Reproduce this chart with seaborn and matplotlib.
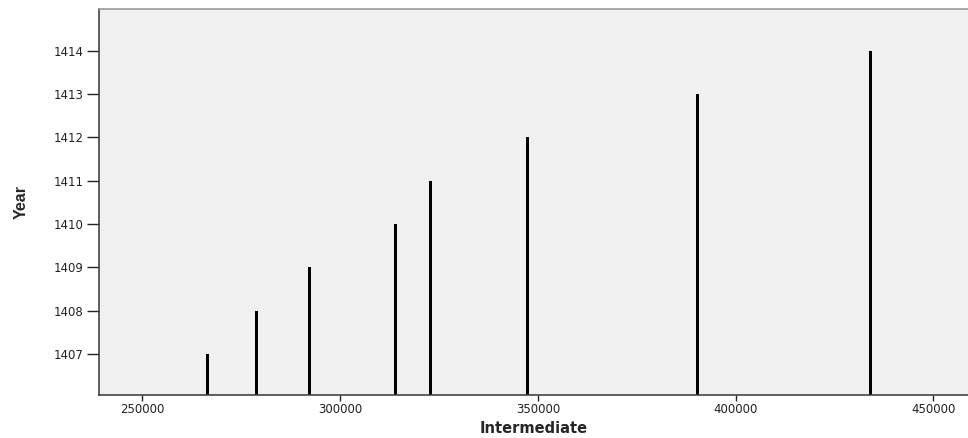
import numpy as np
import pandas as pd
import matplotlib
matplotlib.use("Agg")
import matplotlib.pyplot as plt
import seaborn as sns

# valores
intermediate = [266600, 278800, 292300, 314000, 322900, 347300, 390300, 434200]
years = [1407, 1408, 1409, 1410, 1411, 1412, 1413, 1414]
x_ticks = [250000, 300000, 350000, 400000, 450000]
y_ticks = [1407, 1408, 1409, 1410, 1411, 1412, 1413, 1414]

df = pd.DataFrame({"Intermediate": intermediate, "Year": years})

sns.set_style("ticks", {"axes.facecolor": "#f0f0f0"})
plt.rcParams["font.family"] = ["DejaVu Sans"]

fig = plt.figure(figsize=(9.68, 4.38), dpi=100)
ax = fig.add_axes([0.1023, 0.0982, 0.8977, 0.8806])

sns.barplot(data=df, x="Intermediate", y="Year", native_scale=True,
            width=0.085, color="black", saturation=1, edgecolor="black",
            linewidth=0, ax=ax)

ax.set_xlim(239050, 458770)
ax.set_ylim(1406.054, 1414.955)
ax.set_xticks(x_ticks)
ax.set_xticklabels([str(t) for t in x_ticks])
ax.set_yticks(y_ticks)
ax.set_yticklabels([str(t) for t in y_ticks])
ax.tick_params(axis="both", labelsize=8.5, colors="#222222", width=1)
ax.tick_params(axis="x", length=4, pad=2)
ax.tick_params(axis="y", length=9, pad=2)

ax.set_xlabel("Intermediate", fontsize=10.5, fontweight="bold")
ax.xaxis.set_label_coords(0.5, -0.0856)
ax.xaxis.label.set_va("center")
ax.set_ylabel("Year", fontsize=11.5, fontweight="bold",
              family=["Liberation Sans Narrow", "Liberation Sans", "DejaVu Sans"])
ax.yaxis.set_label_coords(-0.0898, 0.5)
ax.yaxis.label.set_va("center")

for side in ["left", "bottom"]:
    ax.spines[side].set_color("#444444")
    ax.spines[side].set_linewidth(1.2)
ax.spines["top"].set_color("#999999")
ax.spines["top"].set_linewidth(1.2)
ax.spines["right"].set_visible(False)

fig.savefig("out.png", dpi=100)
plt.close(fig)
